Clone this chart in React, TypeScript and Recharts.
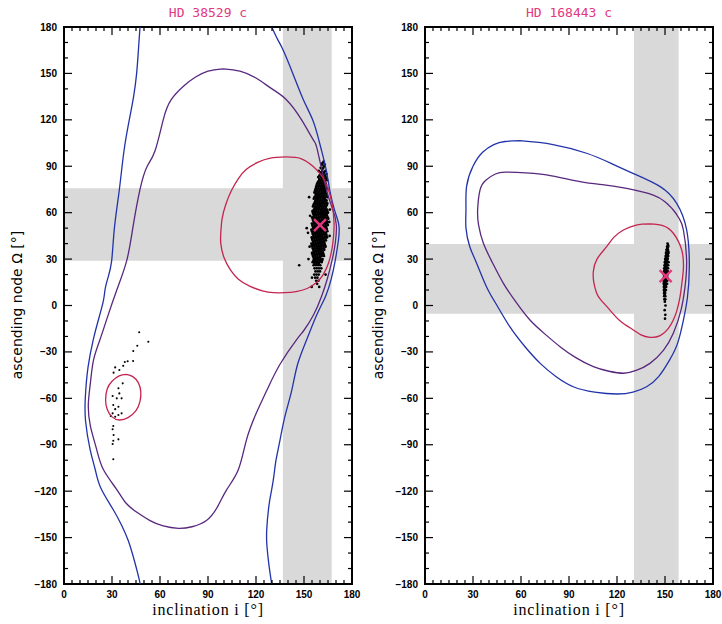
import React from "react";
import { ScatterChart, Scatter, XAxis, YAxis, ReferenceArea } from "recharts";

// ---- tick values ----
const INC_TICKS = [0, 5, 10, 15, 20, 25, 30, 35, 40, 45, 50, 55, 60, 65, 70, 75, 80, 85, 90, 95, 100, 105, 110, 115, 120, 125, 130, 135, 140, 145, 150, 155, 160, 165, 170, 175, 180];
const NODE_TICKS = [-180, -170, -160, -150, -140, -130, -120, -110, -100, -90, -80, -70, -60, -50, -40, -30, -20, -10, 0, 10, 20, 30, 40, 50, 60, 70, 80, 90, 100, 110, 120, 130, 140, 150, 160, 170, 180];

// ---- HD 38529 c ----
const L_BLUE_A = [[47.5, 180], [46.5, 165], [45.4, 150], [43.5, 135], [40.8, 120], [37.5, 100], [34.6, 75], [31.5, 50], [29.8, 29], [27.5, 18], [25.6, 10], [24.6, 3], [21.3, -10], [18.3, -22], [15, -40], [13.3, -60], [13.5, -75], [16.3, -93], [19.5, -106], [23, -118], [30.8, -132], [36, -142], [40.2, -152], [44, -165], [47, -177], [47.5, -180]];
const L_BLUE_B = [[129.8, 180], [133.5, 172], [137, 165], [143, 150], [149.6, 133], [155.4, 120], [159, 108], [161, 100], [164, 87], [166, 75], [169, 62], [171.8, 52], [171.5, 42], [169.5, 29], [167, 17], [163.5, 6], [158, -6], [151.7, -22], [146, -38], [142.3, -55], [138, -72], [135, -87], [132.5, -100], [131.2, -110], [129.8, -119], [128, -130], [126.7, -145], [126.8, -155], [128, -167], [129.8, -180]];
const L_PURPLE = [[99.4, 153], [110, 151.5], [120, 147], [130, 140], [139, 133], [148.5, 120], [155.8, 107], [158.5, 100], [164, 75], [168, 62], [170.2, 52], [169.5, 40], [167.5, 29], [164.5, 17], [161, 6], [156, -6], [150, -16], [145.4, -22], [135, -38], [126.7, -55], [120, -70], [114, -87], [109, -106], [101.7, -119], [96, -130], [89, -139], [80, -143], [71.5, -144], [62, -142.5], [53.8, -139], [46, -134], [39, -128], [33, -119], [24.6, -106], [20.4, -93], [16.5, -78], [15.2, -64], [16.5, -50], [18.5, -35], [22.5, -22], [27, -8], [33, 10], [39.2, 29], [43, 50], [47.5, 75], [52, 90], [56.9, 100], [62, 120], [67, 133], [75, 142], [82, 147.5], [90, 151.5], [99.4, 153]];
const L_CRIMSON_A = [[139, 96], [148, 95], [155.6, 90], [161, 84], [164.5, 77], [167.5, 66], [168.8, 53], [168, 40], [165.5, 28], [162, 20], [158, 15], [152, 11], [145, 9], [138, 8.3], [131, 8.3], [124, 9.5], [116, 12.5], [109, 17], [104, 23], [100, 31], [98, 40], [98, 47], [98.8, 56], [101, 65], [104.5, 74], [109, 82], [114, 88], [121, 92.5], [129, 95.3], [139, 96]];
const L_CRIMSON_B = [[39, -44.5], [43, -46], [46.5, -50], [48, -55.7], [47.5, -62], [45, -68], [40, -72.5], [34.6, -74], [30, -72], [27, -67], [26, -61], [27, -54], [30, -49], [34.5, -45.5], [39, -44.5]];

// dense posterior cloud, rows of [node, inclinations...]
const L_CLOUD_ROWS: number[][] = [
  [93, 162.3], [92, 161.5], [91, 161.2, 163], [90, 162.5], [89, 160.4, 162.1], [88, 161.3],
  [87, 159.2, 161.4, 163.4], [86, 160.5, 162.6], [85, 160.3, 162.2, 164.1], [84, 159.6, 161.1, 163.2],
  [83, 158.9, 160.8, 161.9, 163.5], [82, 159.5, 161, 162.4, 164], [81, 159.6, 160.9, 162.7, 164.4],
  [80, 158.8, 160.3, 161.6, 163], [79, 158.3, 159.7, 160.9, 162.4, 163.5], [78, 158, 159.6, 161, 162.3, 163.8],
  [77, 157.7, 159.1, 160.6, 161.8, 163.2], [76, 157.5, 159, 160.4, 161.7, 163, 164.5],
  [75, 157.1, 158.4, 159.9, 161.2, 162.6, 164], [74, 156.8, 158.3, 159.7, 161, 162.4, 163.6],
  [73, 156.5, 157.9, 159.3, 160.9, 162.1, 163.4], [72, 157.4, 158.8, 160.2, 161.5, 162.8, 164.2],
  [71, 157.2, 158.5, 159.8, 161.4, 162.7, 164.1], [70, 153.2, 156.5, 158, 159.4, 160.7, 162, 163.3, 164.8],
  [69, 156.1, 157.6, 158.9, 160.3, 161.8, 163.1], [68, 157.2, 158.6, 160, 161.3, 162.6, 164],
  [67, 156.9, 158.1, 159.6, 161, 162.3, 163.9], [66, 156.4, 157.8, 159.2, 160.5, 161.8, 163.2, 164.6],
  [65, 155.9, 157.3, 158.7, 160.1, 161.5, 162.9, 164.3], [64, 155.6, 157, 158.4, 159.8, 161.1, 162.4, 163.8],
  [63, 156.7, 158, 159.4, 160.9, 162.2, 163.5], [62, 156.2, 157.6, 159, 160.3, 161.6, 163, 164.4, 166.2],
  [61, 155.3, 156.2, 157.6, 159, 160.5, 161.9, 163.2, 164.6], [60, 155.5, 156.9, 158.3, 159.7, 161, 162.3, 163.7, 165],
  [59, 155.9, 157.1, 158.6, 160, 161.4, 162.8, 164.1], [58, 153.8, 156.2, 157.6, 159, 160.4, 161.7, 163, 164.4],
  [57, 155.1, 156.5, 157.9, 159.3, 160.7, 162.1, 163.4, 164.8], [56, 155.4, 156.8, 158.2, 159.6, 161, 162.3, 163.6, 165.2],
  [55, 155.7, 157.1, 158.5, 159.9, 161.2, 162.6, 164], [54, 156, 157.4, 158.8, 160.2, 161.5, 162.9, 164.3, 165.8],
  [53, 154.9, 156.3, 157.7, 159.1, 160.5, 161.9, 163.2, 164.5], [52, 155.2, 156.6, 158, 159.4, 160.8, 162.1, 163.5, 164.9],
  [51, 155.5, 156.9, 158.3, 159.7, 161, 162.4, 163.8], [50, 151.7, 155.8, 157.2, 158.6, 160, 161.3, 162.7, 164],
  [49, 154.6, 156, 157.4, 158.9, 160.3, 161.6, 163, 164.3], [48, 155, 156.4, 157.8, 159.2, 160.6, 161.9, 163.3, 164.6],
  [47, 152.5, 155.3, 156.7, 158.1, 159.5, 160.8, 162.2, 163.6], [46, 155.6, 157, 158.4, 159.8, 161.1, 162.5, 163.9],
  [45, 155.9, 157.3, 158.7, 160.1, 161.4, 162.9, 164.1, 166], [44, 154.8, 156.2, 157.6, 159, 160.4, 161.7, 163.1, 164.4],
  [43, 155.1, 156.5, 157.9, 159.3, 160.6, 162, 163.4], [42, 155.4, 156.8, 158.2, 159.6, 160.9, 162.3, 163.7],
  [41, 155.7, 157.1, 158.5, 159.9, 161.2, 162.6], [40, 154.6, 156, 157.4, 158.8, 160.2, 161.5, 162.9],
  [39, 154.9, 156.3, 157.7, 159.1, 160.4, 161.8, 163.1], [38, 153.5, 155.2, 156.6, 158, 159.4, 160.7, 162.1, 163.5],
  [37, 155.5, 156.9, 158.3, 159.7, 161, 162.4], [36, 155.8, 157.2, 158.6, 160, 161.3, 162.7],
  [35, 156.1, 157.5, 158.9, 160.3, 161.6], [34, 155, 156.4, 157.8, 159.2, 160.5, 161.9],
  [33, 155.3, 156.7, 158.1, 159.5, 160.9, 162.2], [32, 155.6, 157, 158.4, 159.8, 161.1, 162.5],
  [31, 156, 157.3, 158.7, 160.1], [30, 152.8, 156.2, 157.6, 159, 160.3, 161.6], [29, 155.9, 157.1, 158.5, 159.9, 161.3],
  [28, 155.4, 156.8, 158.2, 159.6, 161], [27, 156.5, 157.9, 159.3], [26, 147, 156, 157.4, 158.8, 160.2],
  [24, 156.6, 158, 159.4, 160.8], [22, 157.2, 158.6, 160], [20, 156.4, 157.8, 159.2, 163.5], [18, 155, 157, 158.4],
  [16, 157.6, 159], [14, 158.2], [12, 154.8, 159.5],
];
const L_SPARSE = [[47, -17.3], [52.7, -23.4], [45.8, -26], [43.3, -29.4], [43.2, -35.9], [39.8, -36], [38, -36.5], [37, -39], [34.6, -41.7], [32, -40], [31, -43.4], [36.7, -50.3], [34, -53.5], [34.6, -56.8], [30.4, -58.5], [33, -60], [36, -60], [30.8, -64.3], [34, -65.4], [32, -67], [30.4, -69.7], [34, -70.8], [36, -69.7], [29.2, -71.4], [32, -71.9], [30.8, -77.9], [30.4, -80], [31, -83.7], [34, -86.5], [30.8, -87.4], [30.4, -89.5], [30.8, -99.4]];
const L_BEST = [[160, 52]];
const L_BAND_INC = [136.8, 167.3];
const L_BAND_NODE = [29, 75.8];

// ---- HD 168443 c ----
const R_BLUE = [[59.4, 106.5], [80, 104], [101, 98.4], [116, 92], [130, 85.4], [147, 76.8], [157.3, 66], [163.5, 49], [165.2, 25], [164, 5], [161.5, -9.4], [158, -24], [153, -35], [146, -46], [138.5, -52.5], [130, -56], [120, -57.2], [106, -56], [92.7, -52.5], [82, -46], [72, -37.4], [62, -26], [53, -13.7], [45, 0], [38.5, 12], [32, 28], [28, 38], [25.6, 50], [25.6, 62], [26, 77], [30, 90], [36, 99], [43, 104], [50, 106], [59.4, 106.5]];
const R_PURPLE = [[57.3, 86], [76, 84.4], [96.9, 80], [112, 78], [126, 75.7], [142.7, 71.4], [150, 67], [155.2, 61.7], [159, 56], [161.5, 48.8], [163.5, 29.4], [162.5, 12], [160, -3], [155.2, -18], [149, -29], [140.6, -37.4], [132, -42], [124, -43.8], [115, -42.5], [105.2, -39.5], [94, -33.5], [84.4, -26.6], [75, -18.5], [65.6, -9.4], [57, 2], [49, 14.3], [42, 28], [36.5, 40.2], [33.5, 52], [32.9, 61.7], [34.4, 74.7], [38, 81], [44, 85], [50, 86.2], [57.3, 86]];
const R_CRIMSON = [[140.6, 52.7], [149, 51.5], [155.2, 46.7], [160.4, 36], [161.5, 24], [160.5, 14], [159.4, 5.7], [157.5, -3], [155.2, -9.4], [152, -15], [147, -19.5], [140.6, -20.6], [135, -19], [130.2, -15.8], [122, -10], [115.6, -3], [110, 3.5], [107.3, 7.9], [105.5, 15], [105.2, 22], [107.5, 30], [113.5, 38], [118, 44], [124, 48.8], [132, 52], [140.6, 52.7]];
const R_CLOUD_ROWS: number[][] = [
  [40, 151.6], [39, 151.9], [38, 151.3, 152], [37, 151.5], [36, 150.9, 151.8], [35, 151.2, 152],
  [34, 150.6, 151.4, 152.2], [33, 150.9, 151.7], [32, 150.4, 151.2, 152], [31, 150.6, 151.5],
  [30, 150.1, 150.9, 151.7], [29, 150.4, 151.2], [28, 149.9, 150.7, 151.5, 152.2], [27, 150.2, 151],
  [26, 149.7, 150.5, 151.3, 152], [25, 150, 150.9], [24, 149.5, 150.3, 151.1, 151.9], [23, 149.8, 150.7],
  [22, 149.4, 150.2, 151, 151.8], [21, 149.7, 150.5, 151.3], [20, 149.3, 150.1, 150.9, 151.6],
  [19, 149.6, 150.5], [18, 149.3, 150, 150.8, 151.5], [17, 149.6, 150.4], [16, 149.2, 150, 150.7, 151.4],
  [15, 149.5, 150.3], [14, 149.2, 149.9, 150.6, 151.3], [13, 149.6, 150.4], [12, 149.3, 150, 150.7],
  [11, 149.7], [10, 149.3, 150, 150.6], [9, 149.7], [8, 149.4, 150.1], [7, 149.8], [6, 149.5, 150.2],
  [4, 149.6, 150.2], [2.5, 149.9], [0, 150.3], [-3, 149.8], [-6, 150.2], [-8.5, 150],
];
const R_BEST = [[150.4, 19]];
const R_BAND_INC = [130.6, 158.5];
const R_BAND_NODE = [-5.3, 39.8];

const BLUE = "#2233aa";
const PURPLE = "#58287e";
const CRIMSON = "#c42550";
const PINK = "#e3387f";
const BAND = "#d9d9d9";

const MAJOR_LEN = 8;
const MINOR_LEN = 4;

const toPts = (arr: number[][]) => arr.map(([i, o]) => ({ i, o }));
const fromRows = (rows: number[][]) =>
  rows.flatMap(([o, ...incs]) => incs.map((i) => ({ i, o })));

// anchor points of the frame tick marks, on each edge of the box
const FRAME_TICKS = [
  ...INC_TICKS.map((v) => ({ i: v, o: -180, side: "b" })),
  ...INC_TICKS.map((v) => ({ i: v, o: 180, side: "t" })),
  ...NODE_TICKS.map((v) => ({ i: 0, o: v, side: "l" })),
  ...NODE_TICKS.map((v) => ({ i: 180, o: v, side: "r" })),
];

const fmt = (v: number) => (v < 0 ? "\u2212" + Math.abs(v) : String(v));

const XTick = (props: any) => {
  const { x, y, payload } = props;
  const v = payload.value;
  if (v % 30 !== 0) return <g />;
  return (
    <text x={x} y={y + 14} textAnchor="middle" fontSize={10} fontWeight="bold" fontFamily="Liberation Sans, Arial, sans-serif" fill="#000">
      {fmt(v)}
    </text>
  );
};

const YTick = (props: any) => {
  const { x, y, payload } = props;
  const v = payload.value;
  if (v % 30 !== 0) return <g />;
  return (
    <text x={x - 7} y={y + 3.5} textAnchor="end" fontSize={10} fontWeight="bold" fontFamily="Liberation Sans, Arial, sans-serif" fill="#000">
      {fmt(v)}
    </text>
  );
};

// inward tick mark at a frame anchor point (position comes from the chart scales)
const tickShape = (p: any) => {
  const { cx, cy } = p;
  const d = p.payload || p;
  const horiz = d.side === "b" || d.side === "t";
  const value = horiz ? d.i : d.o;
  const len = value % 30 === 0 ? MAJOR_LEN : MINOR_LEN;
  const w = 1.2;
  if (d.side === "b") return <rect x={cx - w / 2} y={cy - len} width={w} height={len} fill="#000" />;
  if (d.side === "t") return <rect x={cx - w / 2} y={cy} width={w} height={len} fill="#000" />;
  if (d.side === "l") return <rect x={cx} y={cy - w / 2} width={len} height={w} fill="#000" />;
  return <rect x={cx - len} y={cy - w / 2} width={len} height={w} fill="#000" />;
};

const noDot = () => null;
const cloudDot = (p: any) => <circle cx={p.cx} cy={p.cy} r={1.35} fill="#000" />;
const fineDot = (p: any) => <circle cx={p.cx} cy={p.cy} r={1.05} fill="#000" />;
const starDot = (p: any) => (
  <g stroke={PINK} strokeWidth={2.4}>
    <line x1={p.cx - 6} y1={p.cy - 6} x2={p.cx + 6} y2={p.cy + 6} />
    <line x1={p.cx - 6} y1={p.cy + 6} x2={p.cx + 6} y2={p.cy - 6} />
  </g>
);

type Curve = { pts: number[][]; color: string };

interface PanelProps {
  left: number;
  title: string;
  bandInc: number[];
  bandNode: number[];
  curves: Curve[];
  cloud: { i: number; o: number }[];
  sparse: { i: number; o: number }[];
  best: number[][];
}

const Panel = ({ left, title, bandInc, bandNode, curves, cloud, sparse, best }: PanelProps) => (
  <div style={{ position: "absolute", left, top: 0, width: 361, height: 624 }}>
    <div style={{ position: "absolute", left: 64, width: 288, top: 5, lineHeight: "16px", textAlign: "center", fontFamily: "DejaVu Sans Mono, monospace", fontSize: 13, color: PINK }}>
      {title}
    </div>
    <div style={{ position: "absolute", left: 64, width: 288, top: 601, lineHeight: "18px", textAlign: "center", fontFamily: "Liberation Serif, serif", fontSize: 16, letterSpacing: 0.8, color: "#000" }}>
      inclination i [°]
    </div>
    <div style={{ position: "absolute", left: 17, top: 305, transform: "translate(-50%, -50%) rotate(-90deg)", whiteSpace: "nowrap", fontFamily: "DejaVu Sans, sans-serif", fontSize: 14, color: "#000" }}>
      ascending node Ω [°]
    </div>
    <ScatterChart width={361} height={624} margin={{ top: 27, right: 9, bottom: 0, left: 0 }} style={{ position: "absolute", left: 0, top: 0 }}>
      <XAxis type="number" dataKey="i" domain={[0, 180]} ticks={INC_TICKS} interval={0} height={40} tickSize={0} tickMargin={0} axisLine={false} tickLine={false} tick={XTick} />
      <YAxis type="number" dataKey="o" domain={[-180, 180]} ticks={NODE_TICKS} interval={0} width={64} tickSize={0} tickMargin={0} axisLine={false} tickLine={false} tick={YTick} />
      <ReferenceArea x1={bandInc[0]} x2={bandInc[1]} y1={-180} y2={180} fill={BAND} fillOpacity={1} stroke="none" />
      <ReferenceArea x1={0} x2={180} y1={bandNode[0]} y2={bandNode[1]} fill={BAND} fillOpacity={1} stroke="none" />
      <ReferenceArea x1={0} x2={180} y1={-180} y2={180} fill="none" stroke="#000" strokeWidth={2} />
      <Scatter data={cloud} shape={cloudDot} isAnimationActive={false} />
      <Scatter data={sparse} shape={fineDot} isAnimationActive={false} />
      {curves.map((c, k) => (
        <Scatter key={k} data={toPts(c.pts)} fill={c.color} line={{ stroke: c.color, strokeWidth: 1.3 }} lineType="joint" lineJointType="natural" shape={noDot} isAnimationActive={false} />
      ))}
      <Scatter data={toPts(best)} shape={starDot} isAnimationActive={false} />
      <Scatter data={FRAME_TICKS} shape={tickShape} isAnimationActive={false} />
    </ScatterChart>
  </div>
);

export default function App() {
  return (
    <div style={{ position: "absolute", left: 0, top: 0, width: 722, height: 624, background: "#fff" }}>
      <Panel
        left={0}
        title="HD 38529 c"
        bandInc={L_BAND_INC}
        bandNode={L_BAND_NODE}
        curves={[
          { pts: L_BLUE_A, color: BLUE },
          { pts: L_BLUE_B, color: BLUE },
          { pts: L_PURPLE, color: PURPLE },
          { pts: L_CRIMSON_A, color: CRIMSON },
          { pts: L_CRIMSON_B, color: CRIMSON },
        ]}
        cloud={fromRows(L_CLOUD_ROWS)}
        sparse={toPts(L_SPARSE)}
        best={L_BEST}
      />
      <Panel
        left={361}
        title="HD 168443 c"
        bandInc={R_BAND_INC}
        bandNode={R_BAND_NODE}
        curves={[
          { pts: R_BLUE, color: BLUE },
          { pts: R_PURPLE, color: PURPLE },
          { pts: R_CRIMSON, color: CRIMSON },
        ]}
        cloud={fromRows(R_CLOUD_ROWS)}
        sparse={[]}
        best={R_BEST}
      />
    </div>
  );
}
